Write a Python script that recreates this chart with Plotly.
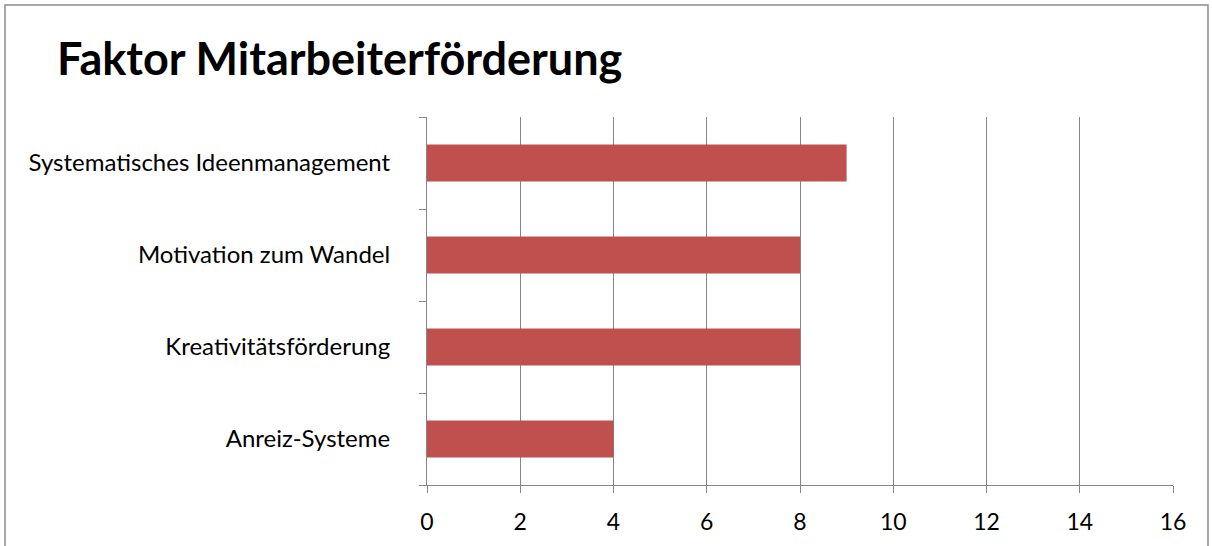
import plotly.graph_objects as go

categories = ["Anreiz-Systeme", "Kreativitätsförderung", "Motivation zum Wandel", "Systematisches Ideenmanagement"]
values = [4, 8, 8, 9]
x_ticks = [0, 2, 4, 6, 8, 10, 12, 14, 16]

W, H = 1212, 546
L, R, T, B = 427, 39, 117, 61
pw, ph = W - L - R, H - T - B

def px(x):
    return (x - L) / pw

def py(y):
    return (H - B - y) / ph

fig = go.Figure(go.Bar(
    x=values, y=categories, orientation="h",
    marker=dict(color="#C0504D", line=dict(width=0)),
))

grid = "#868686"
fig.update_layout(
    width=W, height=H,
    margin=dict(l=L, r=R, t=T, b=B),
    paper_bgcolor="white", plot_bgcolor="white",
    bargap=0.6,
    showlegend=False,
    font=dict(family="Lato, 'Open Sans', sans-serif", color="black"),
    title=dict(text="<b>Faktor Mitarbeiterförderung</b>", x=57 / W, xanchor="left",
               xref="container", y=1 - 59 / H, yanchor="middle", yref="container",
               font=dict(size=45, family="Lato, sans-serif", color="black")),
    xaxis=dict(range=[0, 16], tickvals=x_ticks, showgrid=True, gridcolor=grid, gridwidth=1,
               showline=True, linecolor=grid, linewidth=1, ticks="outside", ticklen=7,
               tickcolor=grid, zeroline=False, tickfont=dict(size=23), fixedrange=True,
               ticklabelstandoff=9),
    yaxis=dict(categoryorder="array", categoryarray=categories, tickson="boundaries",
               showline=True, linecolor=grid, linewidth=1, ticks="outside", ticklen=7,
               tickcolor=grid, showgrid=False, tickfont=dict(size=24),
               ticklabelstandoff=31, range=[-0.5, 3.5], fixedrange=True),
    shapes=[dict(type="rect", xref="paper", yref="paper",
                 x0=px(5), x1=px(1208), y0=py(560), y1=py(5),
                 line=dict(color="#8a8a8a", width=1.5), layer="below")],
)

fig.write_html("out.html", config={"displayModeBar": False},
               post_script="document.body.style.margin='0';document.body.style.overflow='hidden';")
